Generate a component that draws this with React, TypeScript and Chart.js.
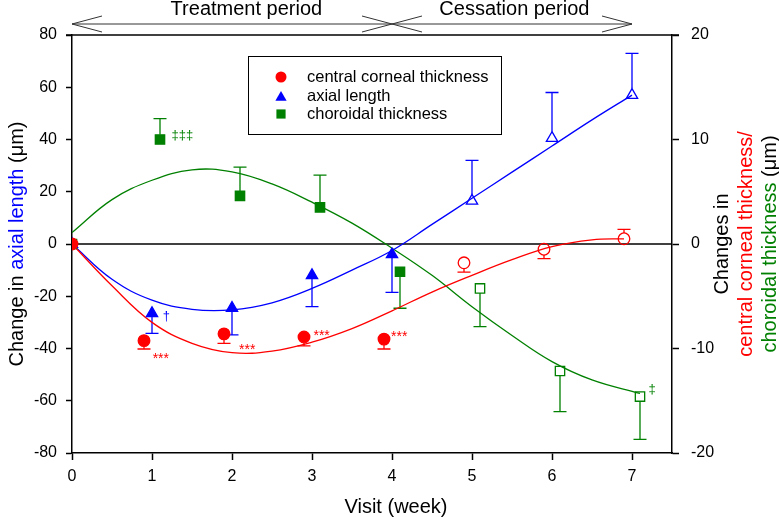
import React, { useEffect, useRef } from "react";
import { Chart, registerables } from "chart.js";

Chart.register(...registerables);

const FONT = '"Liberation Sans", Arial, sans-serif';
const RED = "#ff0000";
const BLUE = "#0000ff";
const GREEN = "#008000";

// axis ticks
const weekTicks = [0, 1, 2, 3, 4, 5, 6, 7];
const axialTicks = [-80, -60, -40, -20, 0, 20, 40, 60, 80];
const thicknessTicks = [-20, -10, 0, 10, 20];

// periods on top
const periodLabels = ["Treatment period", "Cessation period"];
const periodBounds = [0, 4, 7];
const periodLabelX = [2.18, 5.53];

// central corneal thickness (right axis, µm)
const cctX = [0, 0.9, 1.9, 2.9, 3.9, 4.9, 5.9, 6.9];
const cctY = [0, -9.25, -8.6, -8.9, -9.1, -1.8, -0.5, 0.5];
const cctErr = [0, 0.8, 0.9, 0.85, 0.95, 0.9, 0.9, 0.9];

// axial length (left axis, µm)
const alX = [0, 1, 2, 3, 4, 5, 6, 7];
const alY = [0, -26.5, -24.5, -12, -4, 16.5, 40.5, 57];
const alErr = [0, 7.7, 10.3, 12, 14.5, 15.5, 17.5, 16];

// choroidal thickness (right axis, µm)
const ctX = [0, 1.1, 2.1, 3.1, 4.1, 5.1, 6.1, 7.1];
const ctY = [0, 10, 4.6, 3.5, -2.65, -4.25, -12.15, -14.6];
const ctErr = [0, 2, 2.75, 3.1, 3.5, 3.65, 3.9, 4.1];

// first index of the cessation (open-marker) visits
const cessationStart = 5;

// fitted curves
const cctFitX = [0, 0.5, 1, 1.5, 2, 2.5, 3, 3.5, 4, 4.5, 5, 5.5, 6, 6.5, 6.9];
const cctFitY = [0, -4, -7.5, -9.5, -10.4, -10.25, -9.4, -8.1, -6.4, -4.6, -3, -1.5, -0.25, 0.4, 0.5];
const alFitX = [0, 0.5, 1, 1.5, 2, 2.5, 3, 3.5, 4, 4.5, 5, 5.5, 6, 6.5, 7];
const alFitY = [0, -13.5, -21.5, -25, -25.2, -22.5, -17, -10, -2.5, 7.5, 17.5, 27.5, 37.5, 47.5, 57];
const ctFitX = [0, 0.5, 1, 1.5, 2, 2.5, 3, 3.5, 4, 4.5, 5, 5.5, 6, 6.5, 7.1];
const ctFitY = [1.1, 4.25, 6.1, 7.1, 6.9, 5.75, 4, 2, -0.4, -3, -6, -8.75, -11.25, -13, -14.3];

// significance marks
const cctMarks = ["***", "***", "***", "***"];
const cctMarkX = [1.11, 2.19, 3.12, 4.09];
const cctMarkY = [-10.6, -9.76, -8.4, -8.49];
const alMarks = ["†"];
const alMarkX = [1.18];
const alMarkY = [-27.9];
const ctMarks = ["‡‡‡", "‡"];
const ctMarkX = [1.38, 7.25];
const ctMarkY = [10.4, -13.9];

const legendLabels = ["central corneal thickness", "axial length", "choroidal thickness"];

const pts = (xs: number[], ys: number[]) => xs.map((x, i) => ({ x, y: ys[i] }));
const fills = (xs: number[], color: string) =>
  xs.map((_, i) => (i < cessationStart ? color : "rgba(0,0,0,0)"));

function drawMarker(ctx: CanvasRenderingContext2D, style: string, x: number, y: number, r: number, color: string) {
  ctx.fillStyle = color;
  ctx.beginPath();
  if (style === "circle") {
    ctx.arc(x, y, r, 0, Math.PI * 2);
  } else if (style === "triangle") {
    ctx.moveTo(x, y - r);
    ctx.lineTo(x + r * Math.sin((2 * Math.PI) / 3), y - r * Math.cos((2 * Math.PI) / 3));
    ctx.lineTo(x + r * Math.sin((4 * Math.PI) / 3), y - r * Math.cos((4 * Math.PI) / 3));
    ctx.closePath();
  } else {
    const s = r * Math.SQRT1_2;
    ctx.rect(x - s, y - s, 2 * s, 2 * s);
  }
  ctx.fill();
}

function drawSegments(ctx: CanvasRenderingContext2D, segs: [string, string][], cx: number, cy: number) {
  let total = 0;
  for (const [t] of segs) total += ctx.measureText(t).width;
  let x = cx - total / 2;
  for (const [t, c] of segs) {
    ctx.fillStyle = c;
    ctx.fillText(t, x, cy);
    x += ctx.measureText(t).width;
  }
}

const decor = {
  id: "decor",
  beforeDatasetsDraw(chart: any) {
    const { ctx, chartArea: ca, scales } = chart;
    const xs = scales.x, yl = scales.y, yr = scales.y2;
    ctx.save();
    ctx.strokeStyle = "#000";
    ctx.lineWidth = 1.5;
    const y0 = yl.getPixelForValue(0);
    ctx.beginPath();
    ctx.moveTo(ca.left, y0);
    ctx.lineTo(ca.right, y0);
    ctx.stroke();

    const series = [
      { X: cctX, Y: cctY, E: cctErr, sc: yr, color: RED, up: 5.8, down: 5.8 },
      { X: alX, Y: alY, E: alErr, sc: yl, color: BLUE, up: 6.5, down: 3.3 },
      { X: ctX, Y: ctY, E: ctErr, sc: yr, color: GREEN, up: 4.7, down: 4.7 },
    ];
    ctx.lineWidth = 1.3;
    for (const s of series) {
      ctx.strokeStyle = s.color;
      for (let i = 0; i < s.X.length; i++) {
        if (s.E[i] <= 0) continue;
        const px = xs.getPixelForValue(s.X[i]);
        const py = s.sc.getPixelForValue(s.Y[i]);
        const endV = s.Y[i] >= 0 ? s.Y[i] + s.E[i] : s.Y[i] - s.E[i];
        const pe = s.sc.getPixelForValue(endV);
        const dir = pe > py ? 1 : -1;
        const start = py + dir * (dir > 0 ? s.down : s.up);
        ctx.beginPath();
        ctx.moveTo(px, start);
        ctx.lineTo(px, pe);
        ctx.moveTo(px - 6.5, pe);
        ctx.lineTo(px + 6.5, pe);
        ctx.stroke();
      }
    }
    ctx.restore();
  },
  afterDraw(chart: any) {
    const { ctx, chartArea: ca, scales } = chart;
    const xs = scales.x, yl = scales.y, yr = scales.y2;
    ctx.save();
    // top frame line
    ctx.strokeStyle = "#000";
    ctx.lineWidth = 1.5;
    ctx.beginPath();
    ctx.moveTo(ca.left - 6, ca.top);
    ctx.lineTo(ca.right + 7, ca.top);
    ctx.stroke();

    // period arrows
    const ay = ca.top - 11;
    ctx.strokeStyle = "#333";
    ctx.lineWidth = 1;
    const bx = periodBounds.map((v) => xs.getPixelForValue(v));
    ctx.beginPath();
    ctx.moveTo(bx[0], ay);
    ctx.lineTo(bx[2], ay);
    const head = (tip: number, d: number) => {
      ctx.moveTo(tip + d * 30, ay - 8);
      ctx.lineTo(tip, ay);
      ctx.lineTo(tip + d * 30, ay + 8);
    };
    head(bx[0], 1);
    head(bx[1], -1);
    head(bx[1], 1);
    head(bx[2], -1);
    ctx.stroke();
    ctx.fillStyle = "#000";
    ctx.font = `20px ${FONT}`;
    ctx.textAlign = "center";
    ctx.textBaseline = "alphabetic";
    periodLabels.forEach((t, i) => ctx.fillText(t, xs.getPixelForValue(periodLabelX[i]), ca.top - 20));

    // x title
    ctx.textBaseline = "middle";
    ctx.fillText("Visit (week)", ca.left + 324, ca.bottom + 54);

    // left title
    ctx.save();
    ctx.translate(17, (ca.top + ca.bottom) / 2);
    ctx.rotate(-Math.PI / 2);
    ctx.textAlign = "left";
    drawSegments(ctx, [["Change in ", "#000"], ["axial length", BLUE], [" (μm)", "#000"]], 0, 0);
    ctx.restore();

    // right title
    ctx.save();
    ctx.textAlign = "left";
    const rc = (ca.top + ca.bottom) / 2;
    const lines: [string, string][][] = [
      [["Changes in", "#000"]],
      [["central corneal thickness/", RED]],
      [["choroidal thickness", GREEN], [" (μm)", "#000"]],
    ];
    const lx = [ca.right + 50, ca.right + 74, ca.right + 98];
    lines.forEach((segs, i) => {
      ctx.save();
      ctx.translate(lx[i], rc);
      ctx.rotate(-Math.PI / 2);
      drawSegments(ctx, segs, 0, 0);
      ctx.restore();
    });
    ctx.restore();

    // legend
    const lgL = ca.left + 176, lgT = ca.top + 21;
    ctx.strokeStyle = "#000";
    ctx.lineWidth = 1;
    ctx.strokeRect(lgL + 0.5, lgT + 0.5, 253, 78);
    const rows = [lgT + 21, lgT + 40, lgT + 58];
    const styles = ["circle", "triangle", "rect"];
    const cols = [RED, BLUE, GREEN];
    const rads = [5.5, 6.5, 6.5];
    ctx.font = `16.5px ${FONT}`;
    ctx.textAlign = "left";
    ctx.textBaseline = "middle";
    legendLabels.forEach((t, i) => {
      drawMarker(ctx, styles[i], lgL + 33, rows[i] + (i === 1 ? 1.5 : 0), rads[i], cols[i]);
      ctx.fillStyle = "#000";
      ctx.fillText(t, lgL + 59, rows[i]);
    });

    // significance marks
    ctx.textAlign = "center";
    ctx.fillStyle = RED;
    ctx.font = `14px ${FONT}`;
    ctx.textBaseline = "alphabetic";
    cctMarks.forEach((t, i) =>
      ctx.fillText(t, xs.getPixelForValue(cctMarkX[i]), yr.getPixelForValue(cctMarkY[i]) + 8)
    );
    ctx.textBaseline = "middle";
    ctx.fillStyle = BLUE;
    ctx.font = `13px ${FONT}`;
    alMarks.forEach((t, i) => ctx.fillText(t, xs.getPixelForValue(alMarkX[i]), yl.getPixelForValue(alMarkY[i])));
    ctx.fillStyle = GREEN;
    ctMarks.forEach((t, i) => ctx.fillText(t, xs.getPixelForValue(ctMarkX[i]), yr.getPixelForValue(ctMarkY[i])));
    ctx.restore();
  },
};

export default function App() {
  const ref = useRef<HTMLCanvasElement>(null);
  useEffect(() => {
    document.body.style.margin = "0";
    const canvas = ref.current!;
    const tickFont = { family: FONT, size: 16 };
    const axisCommon = (tl: number) => ({
      grid: { display: true, drawOnChartArea: false, drawTicks: true, tickLength: tl, tickColor: "#000", tickWidth: 1.5, color: "#000" },
      border: { display: true, color: "#000", width: 1.5 },
    });
    const chart = new Chart(canvas, {
      type: "scatter",
      data: {
        datasets: [
          {
            label: legendLabels[0], data: pts(cctX, cctY), yAxisID: "y2", showLine: false,
            pointStyle: "circle", pointRadius: 5.8, pointBackgroundColor: fills(cctX, RED),
            pointBorderColor: RED, pointBorderWidth: 1.3, order: 0,
          },
          {
            label: legendLabels[1], data: pts(alX, alY), yAxisID: "y", showLine: false,
            pointStyle: "triangle", pointRadius: 6.5, pointBackgroundColor: fills(alX, BLUE),
            pointBorderColor: BLUE, pointBorderWidth: 1.3, order: 0,
          },
          {
            label: legendLabels[2], data: pts(ctX, ctY), yAxisID: "y2", showLine: false,
            pointStyle: "rect", pointRadius: 6.6, pointBackgroundColor: fills(ctX, GREEN),
            pointBorderColor: GREEN, pointBorderWidth: 1.3, order: 0,
          },
          { data: pts(cctFitX, cctFitY), yAxisID: "y2", showLine: true, borderColor: RED, borderWidth: 1.3, pointRadius: 0, tension: 0.4, order: 1 },
          { data: pts(alFitX, alFitY), yAxisID: "y", showLine: true, borderColor: BLUE, borderWidth: 1.3, pointRadius: 0, tension: 0.4, order: 1 },
          { data: pts(ctFitX, ctFitY), yAxisID: "y2", showLine: true, borderColor: GREEN, borderWidth: 1.3, pointRadius: 0, tension: 0.4, order: 1 },
        ] as any,
      },
      options: {
        responsive: false,
        devicePixelRatio: 1,
        animation: false,
        events: [],
        layout: { padding: { top: 35, left: 0, right: 0, bottom: 0 } },
        plugins: { legend: { display: false }, tooltip: { enabled: false }, title: { display: false } },
        scales: {
          x: {
            type: "linear", position: "bottom", min: 0, max: 7.5,
            afterBuildTicks: (s: any) => { s.ticks = weekTicks.map((v) => ({ value: v })); },
            afterFit: (s: any) => { s.height = 64; },
            ticks: { color: "#000", font: tickFont, padding: 7, maxRotation: 0, autoSkip: false },
            ...axisCommon(7),
          },
          y: {
            type: "linear", position: "left", min: -80, max: 80,
            afterBuildTicks: (s: any) => { s.ticks = axialTicks.map((v) => ({ value: v })); },
            afterFit: (s: any) => { s.width = 72; },
            ticks: { color: "#000", font: tickFont, padding: 9 },
            ...axisCommon(6),
          },
          y2: {
            type: "linear", position: "right", min: -20, max: 20,
            afterBuildTicks: (s: any) => { s.ticks = thicknessTicks.map((v) => ({ value: v })); },
            afterFit: (s: any) => { s.width = 107; },
            ticks: { color: "#000", font: tickFont, padding: 12 },
            ...axisCommon(7),
          },
        },
      } as any,
      plugins: [decor],
    });
    return () => chart.destroy();
  }, []);
  return (
    <div style={{ width: 779, height: 517 }}>
      <canvas ref={ref} width={779} height={517} style={{ display: "block", width: 779, height: 517 }} />
    </div>
  );
}
